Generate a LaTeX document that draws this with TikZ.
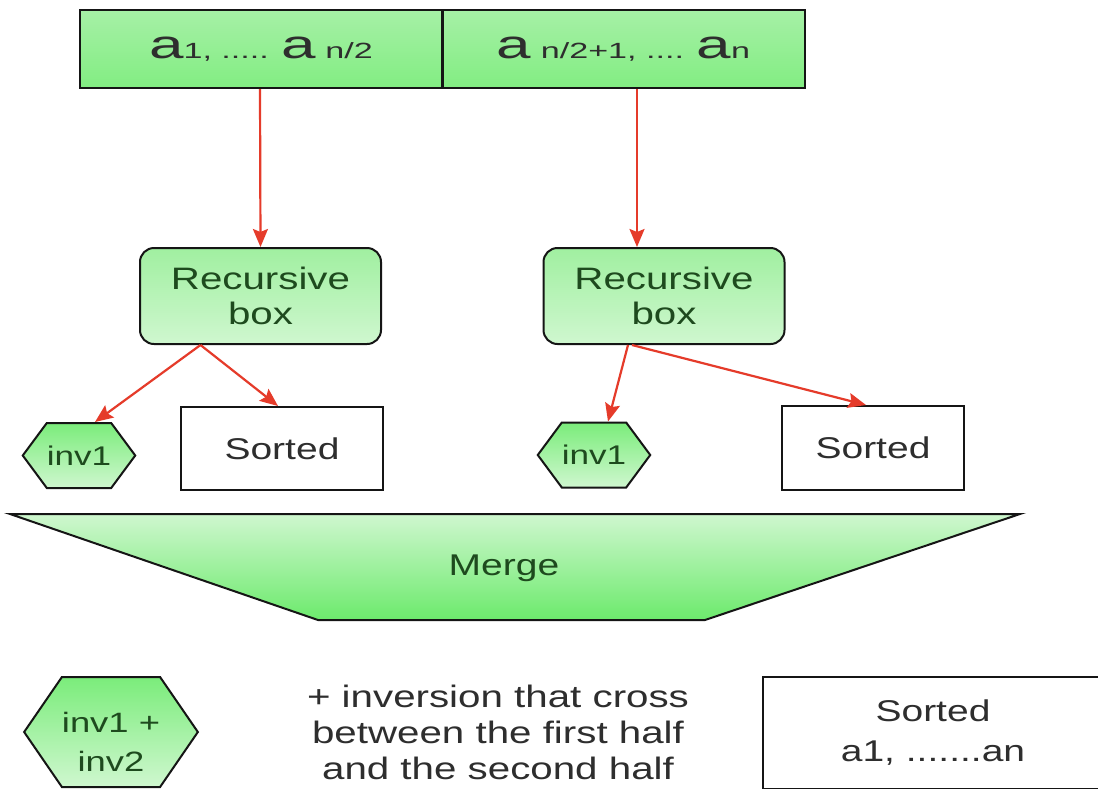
\documentclass[tikz,border=0pt]{standalone}
\usepackage{fontspec}
\setmainfont{Liberation Sans}
\newfontfamily\sansWide[FakeStretch=1.3]{Liberation Sans}
\newfontfamily\sansCell[FakeStretch=1.55]{Liberation Sans}
\usetikzlibrary{shapes.symbols,arrows.meta}

\definecolor{edge}{HTML}{151515}
\definecolor{arrowred}{HTML}{E53B2A}
\definecolor{leafgreen}{HTML}{1E4A1E}
\definecolor{inkgray}{HTML}{2E2E2E}
\definecolor{gPale}{HTML}{CFF7CF}
\definecolor{gSoft}{HTML}{A6F0A6}
\definecolor{gDeep}{HTML}{6CEA6C}

\newcommand{\elemA}[1]{{\fontsize{40}{40}\selectfont #1}}
\newcommand{\idx}[1]{{\fontsize{22}{22}\selectfont #1}}

\tikzset{
  cellbox/.style={draw=edge, line width=2pt, top color=gSoft, bottom color=gDeep!85!white,
    minimum width=362pt, minimum height=78pt, inner sep=0pt, text=inkgray, font=\sansCell},
  recbox/.style={draw=edge, line width=2pt, rounded corners=14pt, top color=gSoft!90!gDeep, bottom color=gPale,
    minimum width=241pt, minimum height=96pt, inner sep=0pt, align=center, text=leafgreen,
    font=\sansWide\fontsize{31}{35}\selectfont},
  hexbox/.style={draw=edge, line width=2pt, signal, signal to=west and east, signal pointer angle=107,
    top color=gDeep!90!white, bottom color=gPale, minimum width=102pt, minimum height=65pt, inner sep=0pt,
    text=leafgreen, font=\sansWide\fontsize{27}{30}\selectfont},
  sortbox/.style={draw=edge, line width=2pt, fill=white, inner sep=0pt, text=inkgray,
    font=\sansWide\fontsize{30}{32}\selectfont},
  arr/.style={draw=arrowred, line width=2.2pt, -{Stealth[length=18pt, width=15pt, inset=3pt]}},
  plain/.style={text=inkgray, align=center, font=\sansWide\fontsize{31}{36}\selectfont},
}

\begin{document}
\begin{tikzpicture}[x=1pt, y=-1pt]
  \fill[white] (0,0) rectangle (1098,788);
  \useasboundingbox (0,0) rectangle (1098,788);

  % input array split into two halves
  \node[cellbox] (cellL) at (261,49) {\elemA{a}\idx{1, ..... }\elemA{a}\idx{ n/2}};
  \node[cellbox] (cellR) at (623.5,49) {\elemA{a}\idx{ n/2+1, .... }\elemA{a}\idx{n}};

  % recursive calls
  \node[recbox] (recL) at (260.5,296) {Recursive\\box};
  \node[recbox] (recR) at (664,296) {Recursive\\box};

  % results of each recursive call
  \node[hexbox] (invL) at (79,455.5) {inv1};
  \node[sortbox, minimum width=202pt, minimum height=83pt] (sortL) at (282,448.5) {Sorted};
  \node[hexbox] (invR) at (594,455) {inv1};
  \node[sortbox, minimum width=182pt, minimum height=84pt] (sortR) at (873,448) {Sorted};

  % arrows
  \draw[arr] ([xshift=-1pt]cellL.south) -- (recL.north);
  \draw[arr] ([xshift=13.5pt]cellR.south) -- ([xshift=-27pt]recR.north);
  \coordinate (splitL) at ([xshift=-60pt]recL.south);
  \coordinate (splitR) at ([xshift=-36pt]recR.south);
  \draw[arr] (splitL) -- ([xshift=16pt]invL.north);
  \draw[arr] (splitL) -- ([xshift=-4pt]sortL.north);
  \draw[arr] (splitR) -- ([xshift=14pt]invR.north);
  \draw[arr] ([xshift=4pt]splitR) -- ([xshift=-7pt]sortR.north);

  % merge step
  \shade[top color=gPale, bottom color=gDeep, draw=edge, line width=2pt]
    (10,514) -- (1020,514) -- (705,620) -- (318,620) -- cycle;
  \node[text=leafgreen, font=\sansWide\fontsize{30}{32}\selectfont] (merge) at (504,568) {Merge};

  % combined result; the strut on the first line lowers the two lines a little
  \node[hexbox, minimum width=163pt, minimum height=110pt, signal pointer angle=111,
        align=center, font=\sansWide\fontsize{28}{39}\selectfont] (invSum) at (111,732)
        {\rule{0pt}{40pt}inv1 +\\inv2};
  \node[plain] (cross) at (498,732) {+ inversion that cross\\between the first half\\and the second half};
  \node[sortbox, minimum width=340pt, minimum height=112pt, align=center,
        font=\sansWide\fontsize{30}{40}\selectfont] (sortAll) at (933,733) {Sorted\\a1, .......an};
\end{tikzpicture}
\end{document}
